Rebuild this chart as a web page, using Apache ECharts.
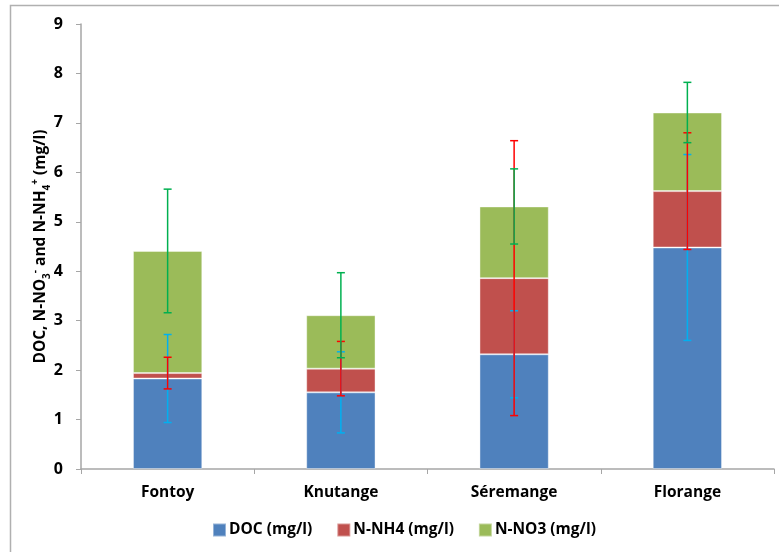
<!DOCTYPE html>
<html>
<head>
<meta charset="utf-8">
<script src="https://cdn.jsdelivr.net/npm/echarts@6/dist/echarts.min.js"></script>
<style>html,body{margin:0;padding:0;background:#fff}#c{width:779px;height:552px}</style>
</head>
<body>
<div id="c"></div>
<script>
const categories = ['Fontoy', 'Knutange', 'Séremange', 'Florange'];
const docVals = [1.83, 1.55, 2.32, 4.48];
const nh4Vals = [0.11, 0.48, 1.54, 1.14];
const no3Vals = [2.47, 1.08, 1.45, 1.59];
const docErr = [0.89, 0.82, 0.88, 1.88];
const nh4Err = [0.32, 0.55, 2.78, 1.18];
const no3Err = [1.25, 0.86, 0.76, 0.61];
const yTicks = [0, 1, 2, 3, 4, 5, 6, 7, 8, 9];

const FONT = 'Open Sans';
const chart = echarts.init(document.getElementById('c'), null, {renderer: 'canvas'});

function errData(base, err) {
  return base.map((v, i) => [i, v - err[i], v + err[i]]);
}
const docTop = docVals;
const nh4Top = docVals.map((v, i) => v + nh4Vals[i]);
const no3Top = nh4Top.map((v, i) => v + no3Vals[i]);

function errSeries(name, data, color) {
  return {
    type: 'custom', name: name, data: data, z: 10,
    encode: {x: 0, y: [1, 2]},
    renderItem: function (params, api) {
      const lo = api.coord([api.value(0), api.value(1)]);
      const hi = api.coord([api.value(0), api.value(2)]);
      const w = 4;
      const st = {stroke: color, lineWidth: 1.5};
      return {
        type: 'group',
        children: [
          {type: 'line', shape: {x1: lo[0], y1: lo[1], x2: hi[0], y2: hi[1]}, style: st},
          {type: 'line', shape: {x1: lo[0] - w, y1: lo[1], x2: lo[0] + w, y2: lo[1]}, style: st},
          {type: 'line', shape: {x1: hi[0] - w, y1: hi[1], x2: hi[0] + w, y2: hi[1]}, style: st}
        ]
      };
    },
    tooltip: {show: false}
  };
}

const option = {
  animation: false,
  backgroundColor: '#fff',
  graphic: [
    {type: 'polyline', shape: {points: [[10.5, 552], [10.5, 5.5], [779, 5.5]]}, style: {stroke: '#b0b0b0', lineWidth: 1.5, fill: null}}
  ],
  grid: {left: 81, right: 5, top: 24, bottom: 83},
  legend: {
    data: ['DOC (mg/l)', 'N-NH4 (mg/l)', 'N-NO3 (mg/l)'],
    top: 522, left: 212, padding: 0,
    itemWidth: 13, itemHeight: 13, itemGap: 24,
    icon: 'rect',
    textStyle: {fontFamily: FONT, fontWeight: 'bold', fontSize: 15.5, color: '#000', padding: [0, 0, 0, -2]}
  },
  xAxis: {
    type: 'category', data: categories,
    axisLine: {lineStyle: {color: '#a6a6a6', width: 1.5}},
    axisTick: {show: true, alignWithLabel: false, length: 5, lineStyle: {color: '#a6a6a6'}},
    axisLabel: {fontFamily: FONT, fontWeight: 'bold', fontSize: 15.5, color: '#000', margin: 16}
  },
  yAxis: {
    type: 'value', min: 0, max: 9, interval: 1,
    axisLine: {show: true, lineStyle: {color: '#a6a6a6', width: 1.5}},
    axisTick: {show: true, length: 5, lineStyle: {color: '#a6a6a6'}},
    splitLine: {show: false},
    axisLabel: {fontFamily: FONT, fontWeight: 'bold', fontSize: 16, color: '#000', margin: 18,
      formatter: function (v) { return yTicks.indexOf(v) >= 0 ? String(v) : ''; }},
    name: '{a|DOC, N-NO}{s|3}{p|-}{a| and N-NH}{s|4}{p|+}{a| (mg/l)}',
    nameLocation: 'middle', nameRotate: 90, nameGap: 29, nameMoveOverlap: false,
    nameTextStyle: {
      rich: {
        a: {fontFamily: FONT, fontWeight: 'bold', fontSize: 15.5, color: '#000', lineHeight: 22, verticalAlign: 'middle'},
        s: {fontFamily: FONT, fontWeight: 'bold', fontSize: 10, color: '#000', lineHeight: 22, verticalAlign: 'bottom'},
        p: {fontFamily: FONT, fontWeight: 'bold', fontSize: 10, color: '#000', lineHeight: 22, verticalAlign: 'top'}
      }
    }
  },
  series: [
    {name: 'DOC (mg/l)', type: 'bar', stack: 'a', data: docVals, barWidth: '40%', itemStyle: {color: '#4F81BD', borderColor: 'rgba(255,255,255,0.4)', borderWidth: 1}},
    {name: 'N-NH4 (mg/l)', type: 'bar', stack: 'a', data: nh4Vals, barWidth: '40%', itemStyle: {color: '#C0504D', borderColor: 'rgba(255,255,255,0.4)', borderWidth: 1}},
    {name: 'N-NO3 (mg/l)', type: 'bar', stack: 'a', data: no3Vals, barWidth: '40%', itemStyle: {color: '#9BBB59', borderColor: 'rgba(255,255,255,0.4)', borderWidth: 1}},
    errSeries('errDOC', errData(docTop, docErr), '#00B0F0'),
    errSeries('errNH4', errData(nh4Top, nh4Err), '#FF0000'),
    errSeries('errNO3', errData(no3Top, no3Err), '#00B050')
  ]
};
chart.setOption(option);
</script>
</body>
</html>
